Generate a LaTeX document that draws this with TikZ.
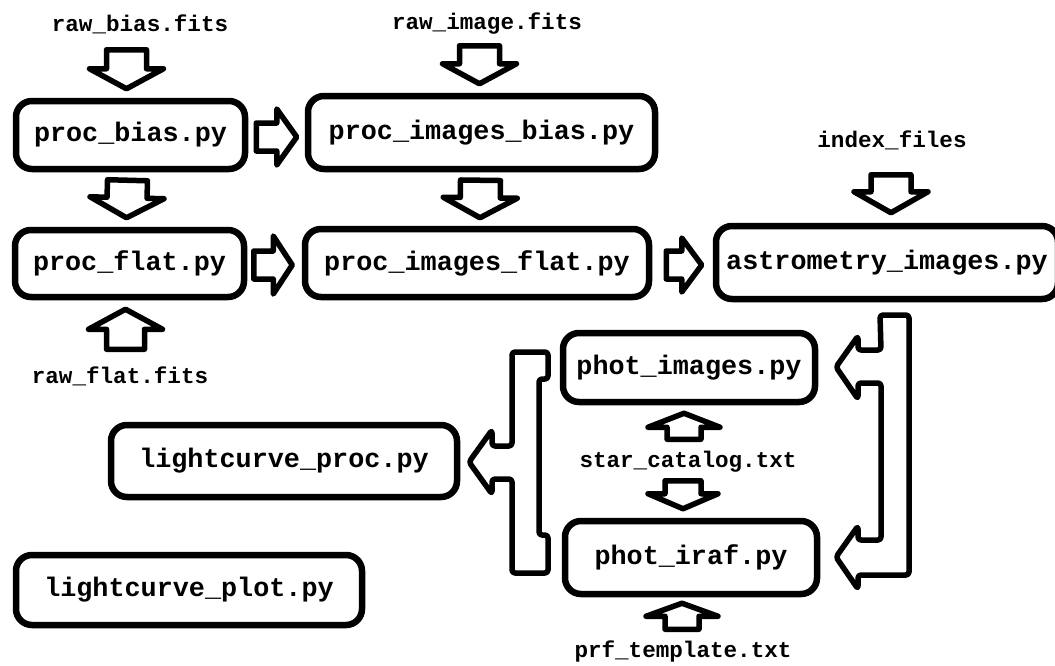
\documentclass[tikz,border=0pt]{standalone}
\usepackage{fontspec}
\usetikzlibrary{calc}
\newfontfamily\pipefont{Liberation Mono}
\def\boxsize{\fontsize{26.8}{30}\selectfont}
\def\labelsize{\fontsize{22.6}{26}\selectfont}
\tikzset{
   pipenode/.style={draw=black, line width=6.5pt, rounded corners=16pt, inner sep=0pt, font=\pipefont\bfseries\boxsize},
   filelabel/.style={anchor=base, inner sep=0pt, font=\pipefont\bfseries\labelsize},
   pipearrow/.style={draw=black, line width=5.5pt, line join=round}
}
% tail, tip, shaft half width, head half width, head length
\newcommand{\fatarrow}[5]{%
  \coordinate (fa-s) at #1;
  \coordinate (fa-e) at #2;
  \coordinate (fa-b) at ($(fa-e)!#5!(fa-s)$);
  \draw[pipearrow] ($(fa-s)!#3!90:(fa-e)$) -- ($(fa-b)!#3!90:(fa-e)$) -- ($(fa-b)!#4!90:(fa-e)$)
     -- (fa-e) -- ($(fa-b)!#4!-90:(fa-e)$) -- ($(fa-b)!#3!-90:(fa-e)$) -- ($(fa-s)!#3!-90:(fa-e)$) -- cycle;
}

\begin{document}
\begin{tikzpicture}[x=1pt, y=-1pt]
\useasboundingbox (0,0) rectangle (1055,665);

% scripts
\node[pipenode, minimum width=229pt, minimum height=68pt] (procbias) at (130.5,135) {proc\_bias.py};
\node[pipenode, minimum width=347pt, minimum height=73pt] (procimbias) at (481.5,132.5) {proc\_images\_bias.py};
\node[pipenode, minimum width=229pt, minimum height=67pt] (procflat) at (129.5,263.5) {proc\_flat.py};
\node[pipenode, minimum width=344pt, minimum height=68pt] (procimflat) at (477,263) {proc\_images\_flat.py};
\node[pipenode, minimum width=342pt, minimum height=73pt] (astrom) at (887,262.5) {astrometry\_images.py};
\node[pipenode, minimum width=252pt, minimum height=69pt] (photimages) at (689,367.5) {phot\_images.py};
\node[pipenode, minimum width=252pt, minimum height=73pt] (photiraf) at (691,557.5) {phot\_iraf.py};
\node[pipenode, minimum width=346pt, minimum height=72pt] (lcproc) at (284,461) {lightcurve\_proc.py};
\node[pipenode, minimum width=346pt, minimum height=70pt] (lcplot) at (189,590) {lightcurve\_plot.py};

% input files
\node[filelabel] (rawbias) at (140,31) {raw\_bias.fits};
\node[filelabel] (rawimage) at (487,29) {raw\_image.fits};
\node[filelabel] (indexfiles) at (892,147) {index\_files};
\node[filelabel] (rawflat) at (120,383) {raw\_flat.fits};
\node[filelabel] (starcat) at (688,467) {star\_catalog.txt};
\node[filelabel] (prftemp) at (683,657) {prf\_template.txt};

% down
\fatarrow{($(procbias.north)+(-4,-48)$)}{($(procbias.north)+(-4,-9)$)}{20pt}{37pt}{20pt}
\fatarrow{($(procbias.south)+(-3,8)$)}{($(procflat.north)+(-3,-9)$)}{20pt}{37pt}{20pt}
\fatarrow{($(procimbias.north)+(-2,-47)$)}{($(procimbias.north)+(-2,-9)$)}{20pt}{37pt}{20pt}
\fatarrow{($(procimbias.south)+(-1,8)$)}{($(procimflat.north)+(3,-8)$)}{20pt}{37pt}{20pt}
\fatarrow{($(astrom.north)+(4,-48)$)}{($(astrom.north)+(4,-10)$)}{20pt}{37pt}{21pt}
\fatarrow{($(photiraf.north)+(-8,-37)$)}{($(photiraf.north)+(-8,-9)$)}{18pt}{35pt}{15pt}
% up
\fatarrow{($(procflat.south)+(-4,49)$)}{($(procflat.south)+(-4,9)$)}{19pt}{37pt}{20pt}
\fatarrow{($(photimages.south)+(-5,34)$)}{($(photimages.south)+(-5,8)$)}{17pt}{36pt}{14pt}
\fatarrow{($(photiraf.south)+(-9,32)$)}{($(photiraf.south)+(-9,6)$)}{17pt}{36pt}{13pt}
% right
\fatarrow{($(procbias.east)+(8,2)$)}{($(procimbias.west)+(-8,4.5)$)}{14pt}{28pt}{20pt}
\fatarrow{($(procflat.east)+(6.5,1.5)$)}{($(procimflat.west)+(-9.5,2)$)}{14pt}{29pt}{19pt}
\fatarrow{($(procimflat.east)+(14,2)$)}{($(astrom.west)+(-11,2.5)$)}{14pt}{27pt}{20pt}

% astrometry -> both photometry scripts
\draw[pipearrow, rounded corners=3pt] (880,315) -- (909,315) -- (909,575) -- (858,575) -- (858,589)
   -- (836,557) -- (858,526) -- (858,540) -- (881,540) -- (881,383) -- (858,383) -- (858,399)
   -- (836,367) -- (858,336) -- (858,350) -- (881,350) -- cycle;
% both photometry scripts -> lightcurve
\draw[pipearrow, rounded corners=3pt] (512,352) -- (548,352) -- (548,379) -- (539,379) -- (539,535)
   -- (548,535) -- (548,573) -- (512,573) -- (512,479) -- (492,479) -- (492,494) -- (469,462)
   -- (492,430) -- (492,446) -- (512,446) -- cycle;
\end{tikzpicture}
\end{document}
